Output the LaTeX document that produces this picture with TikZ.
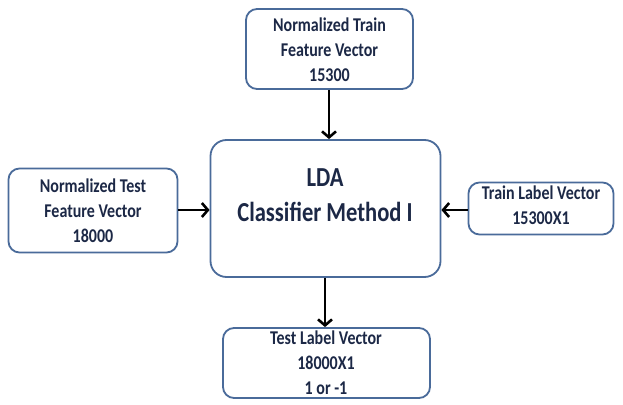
\documentclass[tikz,border=0pt]{standalone}
\usepackage{fontspec}
\setmainfont{Carlito}[FakeStretch=0.82]
\usetikzlibrary{arrows.meta}
\definecolor{bordc}{HTML}{4A6B9A}
\definecolor{txtc}{HTML}{1C2846}
\begin{document}
\begin{tikzpicture}[x=1pt,y=-1pt,
  box/.style={draw=bordc, line width=1.8pt, rounded corners=11pt, fill=white, inner sep=0pt},
  lbl/.style={text=txtc, font=\bfseries\fontsize{19.5}{25}\selectfont, align=center, inner sep=0pt},
  biglbl/.style={text=txtc, font=\bfseries\fontsize{27.5}{35}\selectfont, align=center, inner sep=0pt},
  arr/.style={-{Straight Barb[length=6pt,width=14pt,line width=2.6pt]}, line width=2.6pt, black}]
\useasboundingbox[fill=white] (0,0) rectangle (623,404);
% boxes
\node[box, minimum width=167pt, minimum height=80pt] (train) at (329.5,49) {};
\node[box, minimum width=169pt, minimum height=84pt] (test) at (93,210.5) {};
\node[box, minimum width=230pt, minimum height=137pt, rounded corners=16pt] (lda) at (325.5,208.5) {};
\node[box, minimum width=145pt, minimum height=52pt] (trlab) at (541,208.5) {};
\node[box, minimum width=207pt, minimum height=70pt] (telab) at (326.5,363) {};
% texts
\node[lbl] (traint) at (329.5,50) {Normalized Train\\Feature Vector\\15300};
\node[lbl] (testt) at (93,211) {Normalized Test\\Feature Vector\\18000};
\node[biglbl] (ldat) at (325,195) {LDA\\Classifier Method I};
\node[lbl] (trlabt) at (541,205.5) {Train Label Vector\\15300X1};
\node[lbl] (telabt) at (326,363) {Test Label Vector\\18000X1\\1 or -1};
% arrows
\draw[arr] (train.south -| 329,0) -- (lda.north -| 329,0);
\draw[arr] (test.east |- 0,210) -- (lda.west |- 0,210);
\draw[arr] (trlab.west |- 0,210) -- (lda.east |- 0,210);
\draw[arr] (lda.south -| 325,0) -- (telab.north -| 325,0);
\end{tikzpicture}
\end{document}
